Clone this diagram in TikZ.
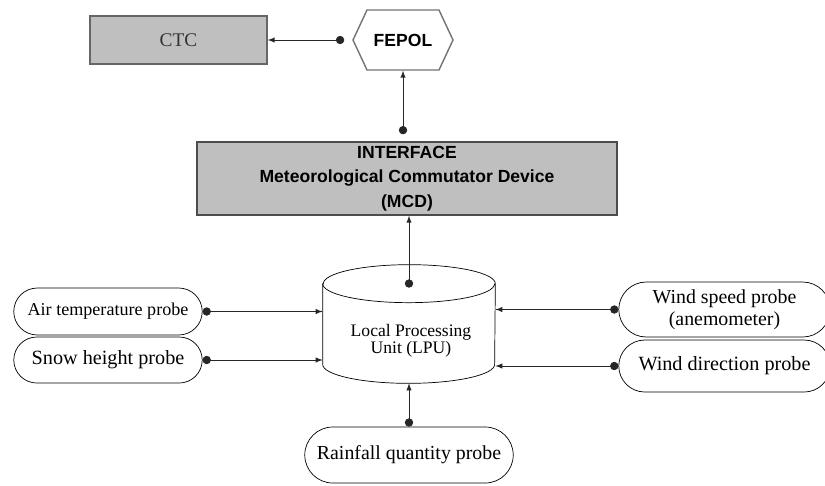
\documentclass[tikz,border=0pt]{standalone}
\usepackage{fontspec}
\setmainfont{Liberation Serif}
\newfontfamily\arialfont{Liberation Sans}
\usetikzlibrary{arrows,shapes.misc,shapes.symbols}

\begin{document}
\begin{tikzpicture}[x=0.02cm, y=-0.02cm,
		every node/.style={font=\fontsize{11.5}{12}\selectfont, align=center},
		graybox/.style={draw=black!60, thick, fill=black!25, rectangle, inner sep=0pt},
		probe/.style={draw, rounded rectangle, fill=white, minimum width=3.84cm, inner sep=1pt},
		link/.style={*-latex, thin, black!85}]
					\useasboundingbox (0,0) rectangle (825,485);
					\node [graybox, minimum width=3.54cm, minimum height=0.96cm, text=black!80, font=\fontsize{11}{12}\selectfont] (ctc) at (178.5,40) {CTC};
					\node [draw, thick, black!55, text=black, signal, signal to=west and east, signal pointer angle=130, minimum width=2cm, minimum height=1.2cm, font=\arialfont\bfseries\fontsize{10}{11}\selectfont] (fepol) at (403,40) {FEPOL};
					\node [graybox, draw=black!70, minimum width=8.4cm, minimum height=1.46cm, font=\arialfont\bfseries\fontsize{10}{14}\selectfont] (mcd) at (407,178.5) {INTERFACE\\Meteorological Commutator Device\\(MCD)};
					% the LPU drum
					\node [minimum width=3.44cm, minimum height=2.36cm, inner sep=0pt] (lpu) at (409,324) {};
					\draw [fill=white] ([yshift=-0.38cm]lpu.north west) -- ([yshift=0.38cm]lpu.south west)
						arc [start angle=180, end angle=360, x radius=1.72cm, y radius=0.38cm]
						-- ([yshift=-0.38cm]lpu.north east)
						arc [start angle=0, end angle=180, x radius=1.72cm, y radius=0.38cm] -- cycle;
					\draw ([yshift=-0.38cm]lpu.north west) arc [start angle=180, end angle=360, x radius=1.72cm, y radius=0.38cm];
					\node [font=\fontsize{10}{9.5}\selectfont] (lputext) at (411,341) {Local Processing\\Unit (LPU)};
					% probes on the left
					\node [probe, minimum height=0.94cm, font=\fontsize{10.3}{12}\selectfont] (air) at (108,311.5) {Air temperature probe};
					\node [probe, minimum height=0.92cm] (snow) at (108,360) {Snow height probe};
					% probes on the right
					\node [probe, minimum width=4.3cm, minimum height=1.1cm, font=\fontsize{11.3}{12.5}\selectfont] (wspeed) at (724.5,309.5) {Wind speed probe\\(anemometer)};
					\node [probe, minimum width=4.3cm, minimum height=1.04cm] (wdir) at (724.5,366) {Wind direction probe};
					\node [probe, minimum width=4.24cm, minimum height=1.12cm, font=\fontsize{11.3}{12}\selectfont] (rain) at (409,455) {Rainfall quantity probe};
					% connectors
					\draw [link, shorten <=8*0.02cm] (fepol.west) -- (ctc.east);
					\draw [link, shorten <=7*0.02cm] (mcd.north -| fepol.south) -- (fepol.south);
					\draw [link, shorten <=-23*0.02cm] (lpu.north) -- (lpu.north |- mcd.south);
					\foreach \p in {air,snow}
					\draw [link] (\p.east) -- (\p.east -| lpu.west);
					\foreach \p in {wspeed,wdir}
					\draw [link] (\p.west) -- (\p.west -| lpu.east);
					\draw [link] (rain.north) -- (rain.north |- lpu.south);
				\end{tikzpicture}
\end{document}
